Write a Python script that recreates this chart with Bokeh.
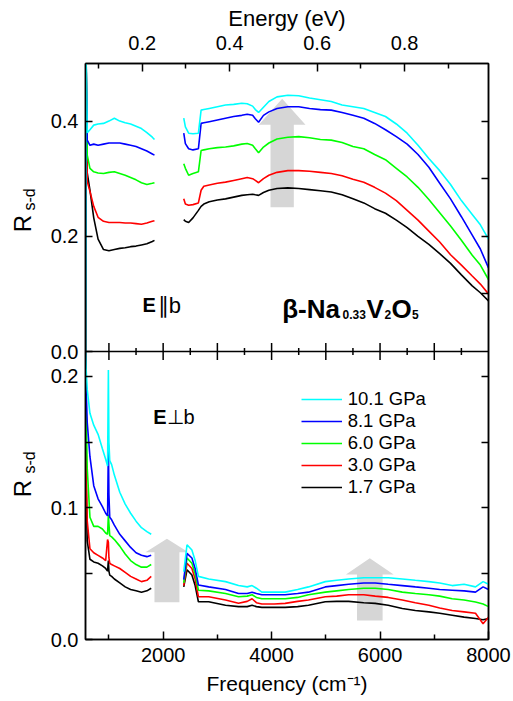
import math
from bokeh.plotting import figure
from bokeh.models import (Range1d, LinearAxis, FixedTicker, Label, Legend, LegendItem,
                          Span, CustomJSTickFormatter, Title)
from bokeh.layouts import row
from bokeh.core.properties import value
from bokeh.embed import file_html
from bokeh.resources import INLINE

FONT = "Liberation Sans"
CM_PER_EV = 8065.54

# ---------------- data ----------------
pressures = ["10.1 GPa", "8.1 GPa", "6.0 GPa", "3.0 GPa", "1.7 GPa"]
colors = ["#00ffff", "#0000ff", "#00ff00", "#ff0000", "#000000"]

# ---- upper panel: E || b ----
par_f1 = [568, 578, 600, 650, 720, 800, 900, 1000, 1100, 1200, 1300, 1400, 1500, 1600, 1700, 1800, 1840]
par1_101 = [0.0, 0.52, 0.380, 0.385, 0.393, 0.395, 0.396, 0.400, 0.405, 0.400, 0.397, 0.395, 0.391, 0.387, 0.380, 0.372, 0.368]
par1_81 = [0.0, 0.52, 0.367, 0.358, 0.360, 0.358, 0.360, 0.362, 0.362, 0.362, 0.360, 0.358, 0.356, 0.352, 0.348, 0.343, 0.341]
par1_60 = [0.0, 0.52, 0.341, 0.318, 0.312, 0.310, 0.309, 0.311, 0.312, 0.309, 0.306, 0.302, 0.298, 0.293, 0.290, 0.292, 0.293]
par1_30 = [0.0, 0.52, 0.295, 0.278, 0.252, 0.233, 0.226, 0.224, 0.224, 0.224, 0.223, 0.223, 0.222, 0.221, 0.223, 0.226, 0.227]
par1_17 = [0.0, 0.52, 0.310, 0.280, 0.232, 0.195, 0.177, 0.175, 0.177, 0.179, 0.180, 0.182, 0.183, 0.185, 0.187, 0.191, 0.193]

par_f2 = [2380, 2410, 2470, 2550, 2650, 2700, 2750, 2850, 3000, 3150, 3300, 3450, 3550, 3650, 3700,
          3760, 3850, 3950, 4100, 4300, 4500, 4700, 4900, 5100, 5300, 5500, 5700, 5900, 6100, 6300,
          6500, 6700, 6900, 7100, 7300, 7500, 7700, 7850, 8000]
par2_101 = [0.405, 0.390, 0.379, 0.378, 0.379, 0.419, 0.420, 0.422, 0.425, 0.428, 0.429, 0.431, 0.430, 0.426, 0.420,
            0.415, 0.424, 0.434, 0.442, 0.445, 0.444, 0.440, 0.437, 0.434, 0.428, 0.425, 0.422, 0.415, 0.408, 0.395,
            0.379, 0.358, 0.335, 0.314, 0.290, 0.262, 0.238, 0.220, 0.195]
par2_81 = [0.379, 0.361, 0.352, 0.350, 0.352, 0.396, 0.397, 0.399, 0.402, 0.405, 0.408, 0.410, 0.412, 0.410, 0.404,
           0.398, 0.410, 0.416, 0.422, 0.425, 0.425, 0.422, 0.420, 0.419, 0.415, 0.410, 0.405, 0.396, 0.385, 0.373,
           0.360, 0.342, 0.320, 0.292, 0.265, 0.234, 0.202, 0.178, 0.145]
par2_60 = [0.326, 0.318, 0.306, 0.309, 0.312, 0.349, 0.350, 0.352, 0.354, 0.355, 0.357, 0.360, 0.361, 0.358, 0.352,
           0.345, 0.355, 0.362, 0.369, 0.372, 0.373, 0.371, 0.368, 0.367, 0.363, 0.356, 0.352, 0.342, 0.333, 0.318,
           0.303, 0.285, 0.264, 0.241, 0.218, 0.193, 0.167, 0.150, 0.125]
par2_30 = [0.265, 0.256, 0.254, 0.255, 0.258, 0.280, 0.287, 0.289, 0.292, 0.294, 0.297, 0.300, 0.302, 0.300, 0.297,
           0.293, 0.300, 0.306, 0.311, 0.314, 0.314, 0.313, 0.311, 0.309, 0.305, 0.299, 0.294, 0.285, 0.275, 0.262,
           0.245, 0.228, 0.209, 0.190, 0.168, 0.150, 0.131, 0.117, 0.100]
par2_17 = [0.229, 0.226, 0.224, 0.232, 0.245, 0.252, 0.256, 0.260, 0.263, 0.265, 0.268, 0.271, 0.272, 0.273, 0.272,
           0.271, 0.276, 0.280, 0.283, 0.284, 0.283, 0.281, 0.279, 0.277, 0.272, 0.265, 0.258, 0.248, 0.240, 0.228,
           0.215, 0.200, 0.186, 0.170, 0.153, 0.133, 0.114, 0.102, 0.088]

# ---- lower panel: E ⊥ b ----
perp_f1 = [568, 580, 600, 650, 720, 800, 880, 940, 975, 990, 1000, 1015, 1050, 1100, 1200, 1300, 1400, 1500,
           1600, 1700, 1780]
perp1_101 = [0.219, 0.205, 0.190, 0.172, 0.163, 0.156, 0.145, 0.137, 0.132, 0.205, 0.150, 0.136, 0.133, 0.125,
             0.112, 0.103, 0.096, 0.090, 0.085, 0.082, 0.080]
perp1_81 = [0.219, 0.190, 0.165, 0.139, 0.117, 0.107, 0.101, 0.096, 0.094, 0.148, 0.110, 0.093, 0.091, 0.087,
            0.080, 0.075, 0.070, 0.066, 0.064, 0.063, 0.064]
perp1_60 = [0.219, 0.175, 0.130, 0.093, 0.086, 0.086, 0.084, 0.081, 0.080, 0.095, 0.088, 0.079, 0.078, 0.076,
            0.071, 0.065, 0.060, 0.057, 0.055, 0.055, 0.057]
perp1_30 = [0.219, 0.130, 0.090, 0.069, 0.066, 0.064, 0.062, 0.060, 0.076, 0.074, 0.062, 0.058, 0.057, 0.056,
            0.054, 0.051, 0.048, 0.046, 0.044, 0.045, 0.048]
perp1_17 = [0.219, 0.120, 0.075, 0.061, 0.059, 0.058, 0.056, 0.054, 0.052, 0.060, 0.052, 0.049, 0.048, 0.046,
            0.043, 0.040, 0.038, 0.037, 0.036, 0.037, 0.039]

perp_f2 = [2380, 2440, 2530, 2590, 2650, 2840, 3150, 3390, 3550, 3640, 3720, 3820, 4050, 4250, 4480, 4680,
           4990, 5200, 5420, 5700, 5910, 6150, 6410, 6650, 6900, 7100, 7330, 7550, 7760, 7900, 8000]
perp2_101 = [0.0515, 0.072, 0.068, 0.060, 0.048, 0.046, 0.044, 0.041, 0.040, 0.041, 0.039, 0.036, 0.036, 0.036,
             0.038, 0.040, 0.044, 0.045, 0.046, 0.047, 0.047, 0.047, 0.046, 0.045, 0.044, 0.043, 0.041, 0.042,
             0.040, 0.044, 0.042]
perp2_81 = [0.0455, 0.0655, 0.062, 0.054, 0.0415, 0.040, 0.038, 0.035, 0.035, 0.036, 0.035, 0.034, 0.034, 0.034,
            0.035, 0.036, 0.040, 0.041, 0.042, 0.043, 0.043, 0.042, 0.041, 0.040, 0.039, 0.038, 0.0375, 0.037,
            0.036, 0.040, 0.038]
perp2_60 = [0.043, 0.062, 0.058, 0.050, 0.0375, 0.037, 0.035, 0.0325, 0.033, 0.034, 0.032, 0.031, 0.031, 0.031,
            0.032, 0.034, 0.036, 0.037, 0.038, 0.039, 0.039, 0.038, 0.036, 0.035, 0.034, 0.033, 0.031, 0.030,
            0.0285, 0.027, 0.025]
perp2_30 = [0.041, 0.058, 0.054, 0.046, 0.0325, 0.0325, 0.030, 0.0275, 0.029, 0.031, 0.028, 0.027, 0.027, 0.0275,
            0.029, 0.030, 0.0325, 0.033, 0.034, 0.034, 0.033, 0.032, 0.030, 0.028, 0.026, 0.024, 0.022, 0.021,
            0.020, 0.012, 0.017]
perp2_17 = [0.040, 0.053, 0.049, 0.041, 0.0287, 0.0287, 0.026, 0.025, 0.025, 0.026, 0.025, 0.0244, 0.0244, 0.0244,
            0.025, 0.026, 0.0287, 0.029, 0.029, 0.028, 0.0275, 0.026, 0.0236, 0.022, 0.021, 0.020, 0.0185, 0.017,
            0.016, 0.015, 0.016]

# axis ranges and ticks
X_START, X_END = 568, 8000
TOP_MAX = 0.5          # upper panel R range 0 .. 0.5
BOT_MAX = 0.219        # lower panel R range 0 .. 0.219
top_major = [0.0, 0.2, 0.4]
top_right_ticks = [0.1, 0.2, 0.3, 0.4]
bot_major = [0.0, 0.1, 0.2]
bot_minor = [0.05, 0.15]
bot_right_ticks = [0.05, 0.1, 0.15, 0.2]
freq_major = [2000, 4000, 6000, 8000]
freq_minor = [1000, 3000, 5000, 7000]
mid_major = [1000, 2000, 3000, 4000, 5000, 6000, 7000]
mid_minor = [1500, 2500, 3500, 4500, 5500, 6500, 7500]
ev_major = [0.2, 0.4, 0.6, 0.8]
ev_minor = [0.1, 0.3, 0.5, 0.7, 0.9]

# grey pressure arrows: (panel, centre freq, shaft half width, head half width, bottom, head base, tip)
arrows = [
    ("top", 4195, 215, 430, 0.2505, 0.3936, 0.4387),
    ("bot", 2070, 230, 395, 0.0284, 0.0664, 0.0766),
    ("bot", 5811, 236, 440, 0.0145, 0.0494, 0.0618),
]

# ---------------- layout constants ----------------
FRAME_W, FRAME_H = 403, 576
TOP_B, BOT_B = 63, 61
LAB_W = 40
MAIN_LEFT, MAIN_RIGHT = 45, 24

# ---------------- main figure ----------------
p = figure(width=MAIN_LEFT + FRAME_W + MAIN_RIGHT, height=TOP_B + FRAME_H + BOT_B,
           x_range=Range1d(X_START, X_END), y_range=Range1d(0, 2),
           output_backend="svg", toolbar_location=None,
           x_axis_location=None, y_axis_location=None,
           min_border_left=MAIN_LEFT, min_border_right=MAIN_RIGHT,
           min_border_top=TOP_B, min_border_bottom=BOT_B)
p.extra_y_ranges = {"top": Range1d(-TOP_MAX, TOP_MAX), "bot": Range1d(0, 2 * BOT_MAX)}
p.extra_x_ranges = {"ev": Range1d(X_START / CM_PER_EV, X_END / CM_PER_EV)}
p.grid.grid_line_color = None
p.outline_line_color = "black"
p.outline_line_width = 1.5

def to_top(v):
    return 1 + v / TOP_MAX

def to_bot(v):
    return v / BOT_MAX

def style_axis(ax):
    ax.axis_line_width = 1.5
    ax.major_tick_line_width = 1.5
    ax.minor_tick_line_width = 1.5
    ax.major_tick_out = 0
    ax.minor_tick_out = 0
    ax.major_label_text_font = FONT
    ax.major_label_text_font_size = "20px"
    ax.major_label_text_color = "black"

left = LinearAxis(
    ticker=FixedTicker(ticks=[to_bot(t) for t in bot_major] + [to_top(t) for t in top_major],
                       minor_ticks=[to_bot(t) for t in bot_minor]),
    formatter=CustomJSTickFormatter(args=dict(tmax=TOP_MAX, bmax=BOT_MAX), code="""
        if (tick > 1.0001) return ((tick - 1) * tmax).toFixed(1);
        if (Math.abs(tick - 1) < 1e-6) return "0.0";
        return (tick * bmax).toFixed(1);
    """))
style_axis(left)
left.major_tick_in = 7
left.minor_tick_in = 7
left.major_label_standoff = 7
p.add_layout(left, "left")

right = LinearAxis(ticker=FixedTicker(ticks=[], minor_ticks=[to_bot(t) for t in bot_right_ticks] +
                                      [to_top(t) for t in top_right_ticks]))
style_axis(right)
right.minor_tick_in = 7
p.add_layout(right, "right")

above = LinearAxis(x_range_name="ev", ticker=FixedTicker(ticks=ev_major, minor_ticks=ev_minor))
style_axis(above)
above.major_tick_in = 8
above.minor_tick_in = 5
above.major_label_standoff = 14
p.add_layout(above, "above")

p.title = Title(text="Energy (eV)", align="center", offset=-17, standoff=3,
                text_font=FONT, text_font_size="22px", text_font_style="normal", text_color="black")

below = LinearAxis(ticker=FixedTicker(ticks=freq_major, minor_ticks=freq_minor),
                   axis_label="Frequency (cm\u207b\u00b9)")
style_axis(below)
below.major_tick_in = 8
below.minor_tick_in = 5
below.major_label_standoff = 8
below.axis_label_text_font = FONT
below.axis_label_text_font_size = "21px"
below.axis_label_text_font_style = "normal"
below.axis_label_text_color = "black"
below.axis_label_standoff = 7
p.add_layout(below, "below")

# boundary between the panels
p.add_layout(Span(location=1, dimension="width", line_color="black", line_width=1.5))
p.scatter(mid_major, [1] * len(mid_major), marker="dash", angle=math.pi / 2, size=17,
          line_color="black", line_width=1.5)
p.scatter(mid_minor, [1] * len(mid_minor), marker="dash", angle=math.pi / 2, size=7,
          line_color="black", line_width=1.5)

# grey arrows (under the curves)
for panel, xc, sw, hw, yb, yh, yt in arrows:
    p.patch([xc - sw, xc + sw, xc + sw, xc + hw, xc, xc - hw, xc - sw],
            [yb, yb, yh, yh, yt, yh, yh], y_range_name=panel,
            fill_color="#d6d6d6", line_color=None)

nan = float("nan")
par1 = [par1_101, par1_81, par1_60, par1_30, par1_17]
par2 = [par2_101, par2_81, par2_60, par2_30, par2_17]
perp1 = [perp1_101, perp1_81, perp1_60, perp1_30, perp1_17]
perp2 = [perp2_101, perp2_81, perp2_60, perp2_30, perp2_17]

renderers = {}
for i in reversed(range(5)):
    p.line(par_f1 + [nan] + par_f2, par1[i] + [nan] + par2[i], y_range_name="top",
           line_color=colors[i], line_width=1.6)
    renderers[i] = p.line(perp_f1 + [nan] + perp_f2, perp1[i] + [nan] + perp2[i], y_range_name="bot",
                          line_color=colors[i], line_width=1.6)

legend = Legend(items=[LegendItem(label=pressures[i], renderers=[renderers[i]]) for i in range(5)],
                location=(215.7, 141), padding=0, margin=0, spacing=0,
                glyph_width=41, glyph_height=20, label_height=20, label_standoff=6,
                label_text_font=FONT, label_text_font_size="18.5px", label_text_color="black",
                border_line_color=None, background_fill_alpha=0)
p.add_layout(legend)

def lab(text, x, y, size, style="normal", **kw):
    p.add_layout(Label(x=x, y=y, text=text, text_font=FONT, text_font_size=size,
                       text_font_style=style, text_color="black", text_baseline="alphabetic", **kw))

# panel annotations
lab("E", 1619, 0.080, "20px", "bold", y_range_name="top")
lab("\u2225b", 1900, 0.080, "22px", y_range_name="top")
lab("E", 1816, 0.169, "20px", "bold", y_range_name="bot")
lab("\u22a5b", 2062, 0.169, "20px", y_range_name="bot")
title_pieces = [("\u03b2-Na", 4195, "26px", 0.0741), ("0.33", 5307, "12px", 0.064),
                ("V", 5749, "26px", 0.0741), ("2", 6082, "12px", 0.064),
                ("O", 6211, "26px", 0.0741), ("5", 6589, "12px", 0.064)]
for t, x, s, y in title_pieces:
    lab(t, x, y, s, "bold", y_range_name="top")

# ---------------- y-axis titles (R_s-d) in a narrow side figure ----------------
ylab = figure(width=LAB_W, height=TOP_B + FRAME_H + BOT_B,
              x_range=Range1d(0, LAB_W), y_range=Range1d(0, FRAME_H),
              output_backend="svg", toolbar_location=None,
              x_axis_location=None, y_axis_location=None,
              min_border_left=0, min_border_right=0, min_border_top=TOP_B, min_border_bottom=BOT_B)
ylab.grid.grid_line_color = None
ylab.outline_line_color = None
# positions in px inside the side frame (x from left, y from frame bottom)
r_pos_x, r_pos_y = [21.5, 21.5], [407.3, 142.3]
sub_pos_x, sub_pos_y = [28.8, 28.8], [429.0, 166.0]
ylab.text(x=r_pos_x, y=r_pos_y, text=["R", "R"], angle=math.pi / 2,
          text_font=value(FONT), text_font_size="24px", text_baseline="alphabetic", text_color="black")
ylab.text(x=sub_pos_x, y=sub_pos_y, text=["s-d", "s-d"], angle=math.pi / 2,
          text_font=value(FONT), text_font_size="16px", text_baseline="alphabetic", text_color="black")

layout = row(ylab, p, spacing=0)
open("out.html", "w").write(file_html(layout, INLINE))
